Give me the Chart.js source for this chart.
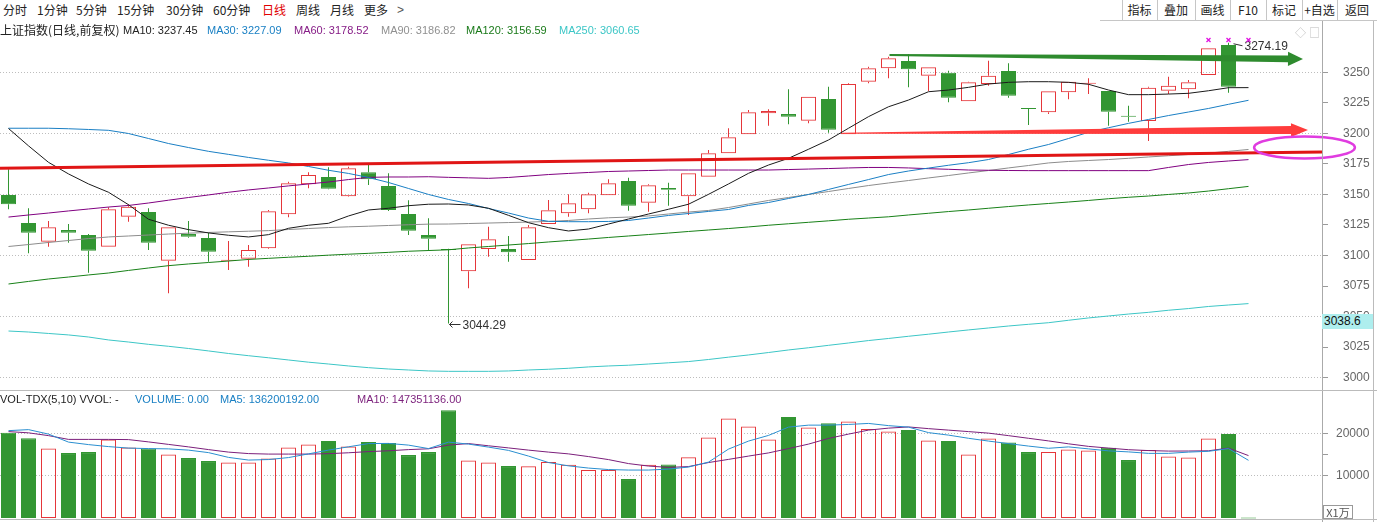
<!DOCTYPE html>
<html>
<head>
<meta charset="utf-8">
<title>上证指数 日线</title>
<script src="https://cdn.jsdelivr.net/npm/chart.js@4.4.1/dist/chart.umd.min.js"></script>
<style>
  html, body { margin: 0; padding: 0; background: #fff; }
  body { position: relative; width: 1377px; height: 522px; overflow: hidden;
         font-family: "Liberation Sans", "Noto Sans CJK SC", sans-serif; }
  canvas { position: absolute; left: 0; }
  #price { top: 21px; }
  #vol { top: 391px; }
  .t { position: absolute; white-space: nowrap; line-height: 14px; font-size: 12px; color: #222; z-index: 2; }
  .cn { font-family: "Noto Sans CJK SC", sans-serif; }
  .lg { font-size: 11px; }
  .ln { position: absolute; background: #c6c6c6; z-index: 1; }
  .btn { position: absolute; top: 3px; line-height: 14px; font-size: 12px; text-align: center; z-index: 2;
         font-family: "Noto Sans CJK SC", sans-serif; color: #222; }
</style>
</head>
<body>
<!-- period toolbar -->
<span class="t cn" style="left:3px;top:3px">分时</span>
<span class="t cn" style="left:37px;top:3px">1分钟</span>
<span class="t cn" style="left:76px;top:3px">5分钟</span>
<span class="t cn" style="left:117px;top:3px">15分钟</span>
<span class="t cn" style="left:166px;top:3px">30分钟</span>
<span class="t cn" style="left:213px;top:3px">60分钟</span>
<span class="t cn" style="left:262px;top:3px;color:#e00000">日线</span>
<span class="t cn" style="left:296px;top:3px">周线</span>
<span class="t cn" style="left:330px;top:3px">月线</span>
<span class="t cn" style="left:364px;top:3px">更多</span>
<span class="t" style="left:397px;top:3px;color:#555">&gt;</span>

<!-- right buttons -->
<div class="btn" style="left:1122px;width:35px">指标</div>
<div class="btn" style="left:1157px;width:38px">叠加</div>
<div class="btn" style="left:1195px;width:35px">画线</div>
<div class="btn" style="left:1230px;width:36px">F10</div>
<div class="btn" style="left:1266px;width:36px">标记</div>
<div class="btn" style="left:1302px;width:35px">+自选</div>
<div class="btn" style="left:1337px;width:40px">返回</div>
<div class="ln" style="left:1122px;top:0;width:1px;height:21px"></div>
<div class="ln" style="left:1157px;top:0;width:1px;height:21px"></div>
<div class="ln" style="left:1195px;top:0;width:1px;height:21px"></div>
<div class="ln" style="left:1230px;top:0;width:1px;height:21px"></div>
<div class="ln" style="left:1266px;top:0;width:1px;height:21px"></div>
<div class="ln" style="left:1302px;top:0;width:1px;height:21px"></div>
<div class="ln" style="left:1337px;top:0;width:1px;height:21px"></div>
<div class="ln" style="left:1100px;top:20px;width:277px;height:1px"></div>

<!-- price legend -->
<span class="t cn" style="left:0;top:23px">上证指数(日线,前复权)</span>
<span class="t lg" style="left:123px;top:23px;color:#222">MA10: 3237.45</span>
<span class="t lg" style="left:207px;top:23px;color:#1a80c4">MA30: 3227.09</span>
<span class="t lg" style="left:294px;top:23px;color:#861c86">MA60: 3178.52</span>
<span class="t lg" style="left:381px;top:23px;color:#909090">MA90: 3186.82</span>
<span class="t lg" style="left:466px;top:23px;color:#1a7a1a">MA120: 3156.59</span>
<span class="t lg" style="left:559px;top:23px;color:#3cc6c6">MA250: 3060.65</span>
<span class="t cn" style="left:1295px;top:25px;font-size:11px;color:#bbb">◇</span>
<span class="t cn" style="left:1309px;top:25px;font-size:11px;color:#bbb">□</span>

<!-- volume legend -->
<span class="t lg" style="left:0;top:392px">VOL-TDX(5,10) VVOL: -</span>
<span class="t lg" style="left:135px;top:392px;color:#1a80c4">VOLUME: 0.00</span>
<span class="t lg" style="left:220px;top:392px;color:#1a80c4">MA5: 136200192.00</span>
<span class="t lg" style="left:357px;top:392px;color:#7b1f7b">MA10: 147351136.00</span>

<!-- frame lines -->
<div class="ln" style="left:1322px;top:21px;width:1px;height:501px;background:#aaa"></div>
<div class="ln" style="left:1373px;top:21px;width:1px;height:501px;background:#bbb"></div>
<div class="ln" style="left:0;top:390px;width:1377px;height:1px;background:#bbb"></div>
<div class="ln" style="left:0;top:519px;width:1377px;height:1px;background:#bbb"></div>

<!-- cursor price and volume unit -->
<div class="t" style="left:1322px;top:314px;width:51px;height:15px;line-height:15px;background:#aeeeee;padding-left:2px;box-sizing:border-box;z-index:3;color:#111">3038.6</div>
<div class="t cn" style="left:1323px;top:505px;width:30px;height:14px;line-height:13px;border:1px solid #999;box-sizing:border-box;font-size:11px;color:#555;text-align:center;background:#fff;z-index:3">X1万</div>

<canvas id="price" width="1377" height="370"></canvas>
<canvas id="vol" width="1377" height="131"></canvas>

<script>
// daily candles (bar index 0..61)
const openP = [3149.6, 3126.6, 3111.3, 3120.9, 3116.8, 3107.2, 3131.8, 3135.6, 3095.8, 3117.6,
  3114.4, 3095.8, 3097.4, 3105.9, 3133.8, 3158.3, 3164.3, 3148.5, 3168.1, 3156.9,
  3134.0, 3116.8, 3105.1, 3087.1, 3105.4, 3105.4, 3096.3, 3125.8, 3134.6, 3137.9,
  3149.3, 3161.0, 3143.3, 3155.3, 3148.5, 3164.5, 3183.7, 3199.2, 3216.4, 3215.9,
  3210.4, 3228.1, 3199.2, 3242.3, 3253.3, 3259.3, 3247.2, 3249.7, 3226.3, 3240.4,
  3251.1, 3220.5, 3217.3, 3233.6, 3240.7, 3234.7, 3214.2, 3210.1, 3234.9, 3236.1,
  3247.8, 3272.3];
const highP = [3170.6, 3138.7, 3128.3, 3125.8, 3117.6, 3139.5, 3142.0, 3138.7, 3123.1, 3128.3,
  3118.7, 3111.9, 3108.6, 3137.3, 3160.4, 3168.1, 3172.2, 3172.7, 3174.1, 3167.3,
  3145.2, 3130.5, 3105.6, 3109.2, 3123.6, 3116.0, 3125.0, 3145.5, 3150.1, 3151.4,
  3162.4, 3163.7, 3158.3, 3159.6, 3167.3, 3186.4, 3204.2, 3219.1, 3219.7, 3236.1,
  3230.0, 3238.2, 3241.0, 3254.6, 3262.8, 3264.7, 3254.1, 3251.3, 3242.3, 3259.5,
  3257.4, 3220.5, 3234.4, 3242.3, 3245.1, 3234.7, 3222.7, 3238.2, 3246.4, 3243.7,
  3269.6, 3274.19];
const lowP = [3137.9, 3101.8, 3107.2, 3110.5, 3086.0, 3107.2, 3127.7, 3104.5, 3069.1, 3114.6,
  3095.0, 3088.2, 3090.9, 3105.4, 3131.3, 3155.0, 3154.2, 3148.2, 3157.7, 3136.5,
  3116.8, 3103.7, 3044.29, 3073.2, 3099.0, 3095.0, 3096.3, 3125.8, 3131.8, 3134.6,
  3149.3, 3136.7, 3135.9, 3140.8, 3133.2, 3164.5, 3183.7, 3199.2, 3206.3, 3207.4,
  3208.3, 3200.6, 3199.2, 3241.0, 3245.1, 3237.7, 3234.7, 3225.4, 3226.3, 3239.0,
  3229.2, 3206.9, 3215.9, 3227.9, 3232.2, 3206.3, 3209.6, 3193.8, 3232.2, 3228.7,
  3247.8, 3233.3];
const closeP = [3141.9, 3118.7, 3123.1, 3118.7, 3104.0, 3137.9, 3140.0, 3110.5, 3123.1, 3115.4,
  3103.1, 3096.3, 3104.5, 3136.2, 3159.1, 3165.9, 3154.7, 3171.4, 3162.4, 3137.3,
  3120.3, 3113.8, 3104.5, 3109.2, 3113.3, 3102.7, 3123.1, 3137.0, 3142.8, 3150.1,
  3159.1, 3140.8, 3157.5, 3153.9, 3167.3, 3183.7, 3196.8, 3217.3, 3218.3, 3213.7,
  3230.0, 3203.0, 3240.4, 3253.3, 3261.5, 3252.5, 3254.1, 3229.2, 3241.8, 3247.2,
  3230.8, 3220.0, 3234.4, 3242.3, 3241.0, 3217.7, 3213.7, 3237.4, 3239.0, 3241.8,
  3269.6, 3238.2];

// price moving averages (bar index 0..62)
const ma10 = [3204.0, 3189.8, 3176.3, 3166.8, 3158.6, 3151.8, 3141.6, 3129.7, 3124.8, 3121.2,
  3118.5, 3116.6, 3115.2, 3117.1, 3122.3, 3124.8, 3126.4, 3132.4, 3137.3, 3138.7,
  3140.8, 3142.0, 3142.2, 3141.4, 3138.7, 3132.9, 3126.9, 3122.8, 3120.1, 3121.7,
  3125.8, 3129.9, 3134.0, 3137.9, 3142.0, 3150.1, 3158.6, 3167.3, 3174.1, 3179.6,
  3187.0, 3194.6, 3204.2, 3213.7, 3221.8, 3227.3, 3234.1, 3235.5, 3237.7, 3240.4,
  3241.8, 3242.3, 3242.3, 3241.8, 3240.2, 3235.5, 3231.7, 3231.7, 3232.2, 3232.8,
  3234.9, 3237.4, 3237.45];
const ma30 = [3204.2, 3204.2, 3204.2, 3203.8, 3203.2, 3202.5, 3199.9, 3195.8, 3191.7, 3188.4,
  3185.3, 3182.8, 3180.3, 3178.0, 3175.8, 3172.9, 3169.8, 3167.2, 3163.9, 3159.8,
  3154.9, 3150.0, 3145.9, 3142.6, 3138.5, 3134.8, 3130.7, 3128.0, 3127.7, 3127.7,
  3127.9, 3128.7, 3130.7, 3132.8, 3134.4, 3136.1, 3137.7, 3141.0, 3143.4, 3146.7,
  3150.0, 3154.1, 3158.2, 3162.2, 3166.3, 3169.2, 3171.6, 3173.9, 3176.0, 3178.6,
  3182.7, 3187.0, 3190.9, 3195.8, 3200.9, 3204.6, 3208.2, 3211.4, 3214.6, 3217.5,
  3220.4, 3223.8, 3227.09];
const ma60 = [3131.5, 3133.2, 3134.8, 3136.5, 3138.1, 3139.7, 3141.0, 3143.0, 3145.3, 3147.5,
  3149.6, 3151.8, 3153.7, 3155.3, 3157.0, 3158.6, 3160.2, 3162.2, 3164.0, 3164.3,
  3164.3, 3164.5, 3164.0, 3163.6, 3163.2, 3163.9, 3165.1, 3166.3, 3167.2, 3168.0,
  3168.8, 3169.2, 3169.6, 3170.0, 3170.0, 3170.0, 3170.0, 3170.0, 3170.0, 3170.4,
  3170.8, 3171.2, 3171.7, 3172.1, 3172.1, 3171.7, 3171.1, 3170.6, 3170.0, 3169.8,
  3169.6, 3169.5, 3169.5, 3169.5, 3169.5, 3169.5, 3169.5, 3169.5, 3172.1, 3174.5,
  3176.2, 3177.4, 3178.52];
const ma90 = [3107.4, 3109.0, 3110.7, 3112.3, 3113.9, 3115.2, 3116.0, 3116.8, 3117.6, 3118.3,
  3118.9, 3119.4, 3119.9, 3120.4, 3121.3, 3122.1, 3122.9, 3123.5, 3124.0, 3124.6,
  3125.2, 3125.7, 3125.8, 3126.2, 3126.6, 3127.0, 3127.4, 3127.9, 3128.7, 3129.9,
  3130.9, 3131.5, 3132.4, 3134.0, 3135.6, 3136.9, 3139.3, 3142.2, 3145.1, 3147.5,
  3150.0, 3152.4, 3154.9, 3157.3, 3159.4, 3161.4, 3163.5, 3165.5, 3167.6, 3169.6,
  3171.7, 3173.7, 3175.8, 3177.0, 3177.8, 3178.6, 3179.6, 3180.7, 3181.7, 3182.7,
  3183.9, 3185.3, 3186.82];
const ma120 = [3076.7, 3078.8, 3080.8, 3082.4, 3084.1, 3085.7, 3087.8, 3089.8, 3091.7, 3093.1,
  3094.3, 3095.5, 3096.8, 3097.7, 3098.6, 3099.4, 3100.3, 3101.1, 3101.8, 3102.6,
  3103.5, 3104.1, 3104.7, 3106.2, 3107.4, 3108.6, 3109.8, 3111.1, 3112.3, 3113.5,
  3114.8, 3116.0, 3117.2, 3118.4, 3119.7, 3120.9, 3122.1, 3123.4, 3124.8, 3126.0,
  3127.2, 3128.4, 3129.7, 3130.7, 3131.7, 3133.2, 3134.6, 3136.0, 3137.3, 3138.7,
  3140.1, 3141.4, 3142.6, 3143.8, 3145.1, 3146.5, 3147.7, 3148.7, 3150.0, 3151.2,
  3152.8, 3154.7, 3156.59];
const ma250 = [3038.2, 3037.4, 3036.2, 3035.0, 3033.3, 3030.9, 3029.2, 3027.3, 3025.7, 3023.9,
  3021.9, 3019.8, 3018.0, 3016.3, 3014.5, 3012.7, 3011.2, 3009.6, 3008.2, 3007.1,
  3006.3, 3005.5, 3005.2, 3005.2, 3005.2, 3005.5, 3006.3, 3006.9, 3007.7, 3008.8,
  3009.6, 3010.2, 3011.2, 3012.2, 3013.2, 3014.9, 3016.8, 3018.6, 3020.6, 3022.7,
  3024.5, 3026.5, 3028.4, 3030.4, 3032.1, 3033.9, 3035.6, 3037.4, 3039.1, 3040.7,
  3042.3, 3043.7, 3045.0, 3047.0, 3048.9, 3050.5, 3052.1, 3053.5, 3055.2, 3056.6,
  3058.3, 3059.5, 3060.65];

// volume in units of 10,000 shares (bar index 0..62)
const volume = [20110, 18860, 16430, 15330, 15560, 18550, 16670, 16430, 15010, 14150,
  13440, 13130, 13130, 14070, 16670, 17370, 18160, 16900, 17920, 17690,
  14850, 15560, 25470, 13600, 13130, 12260, 12190, 13200, 12570, 11320,
  11320, 9200, 12570, 12660, 14330, 19030, 23500, 21620, 18550, 23820,
  21380, 22400, 22800, 20990, 20440, 20750, 18320, 18160, 15020, 18790,
  17850, 15560, 15560, 16200, 15960, 16580, 13680, 16030, 14540, 14310,
  18790, 19810, 0];
const volMa5 = [20630, 20870, 19810, 17920, 17330, 16860, 16510, 16390, 16320, 16030,
  15440, 14310, 13680, 13800, 14270, 15140, 16030, 16810, 17570, 17610,
  17210, 16390, 17920, 17450, 16740, 15960, 14620, 13090, 12310, 11790,
  11440, 11320, 11320, 11550, 12030, 13200, 16270, 18160, 19500, 21460,
  21930, 21930, 22090, 22330, 21810, 21460, 20160, 19570, 18820, 18160,
  17570, 16980, 16460, 16790, 16320, 15850, 15610, 15260, 15260, 15560,
  15750, 16390, 13620];
const volMa10 = [20400, 20110, 19450, 18560, 18560, 18560, 18510, 17970, 17380, 16790,
  16150, 15560, 15210, 15090, 15090, 15090, 15190, 15400, 15680, 15870,
  16150, 16340, 17210, 17570, 17050, 16550, 16030, 15560, 15140, 14500,
  13790, 12850, 12260, 11950, 12140, 13090, 13840, 14620, 15370, 16390,
  17450, 18790, 19810, 20750, 21220, 21500, 21100, 20750, 20400, 20040,
  19450, 18820, 18200, 17520, 16910, 16510, 16130, 15920, 15800, 15820,
  15870, 16510, 14735];

// axis ticks
const priceTicks = [3000, 3025, 3050, 3075, 3100, 3125, 3150, 3175, 3200, 3225, 3250];
const volTicks = [10000, 15000, 20000];

// hand-drawn marks, in (bar index, price)
const trendLineX = [-0.425, 65.675], trendLineY = [3171.4, 3184.8];
const redArrowX = [41.7, 64.975], redArrowY = [3200.1, 3202.8];
const greenArrowX = [44.05, 64.725], greenArrowY = [3264.1, 3260.9];
const ringX = 64.8, ringY = 3188.4, ringRX = 2.52, ringRY = 9.0;
const signalBars = [60, 61, 62];

const RED = "#e5363a";
const GREEN = "#329632";
const CLEAR = "rgba(0,0,0,0)";

Chart.defaults.font.family = '"Liberation Sans", Arial, sans-serif';
Chart.defaults.font.size = 12;

// x range so that bar i sits at 8.5 + 20 * i pixels
const xMin = -0.425, xMax = 65.675;

const isUp = closeP.map((c, i) => c >= openP[i]);
const candleColor = isUp.map(u => u ? RED : GREEN);
const pts = arr => arr.map((v, i) => ({ x: i, y: v }));

function maLine(data, color, order) {
    return {
        type: "line", data: pts(data), borderColor: color, borderWidth: 1,
        pointRadius: 0, tension: 0, fill: false, order: order
    };
}

function fixedAxis(s) {
    s.width = 55;
    s.paddingTop = 0;
    s.paddingBottom = 0;
}

function arrow(ctx, x0, y0, x1, y1, tailHalf, shaftHalf, headHalf, headLen, color) {
    const len = Math.hypot(x1 - x0, y1 - y0);
    const dx = (x1 - x0) / len, dy = (y1 - y0) / len;
    const nx = -dy, ny = dx;
    const bx = x1 - dx * headLen, by = y1 - dy * headLen;
    ctx.fillStyle = color;
    ctx.beginPath();
    ctx.moveTo(x0 + nx * tailHalf, y0 + ny * tailHalf);
    ctx.lineTo(bx + nx * shaftHalf, by + ny * shaftHalf);
    ctx.lineTo(bx + nx * headHalf, by + ny * headHalf);
    ctx.lineTo(x1, y1);
    ctx.lineTo(bx - nx * headHalf, by - ny * headHalf);
    ctx.lineTo(bx - nx * shaftHalf, by - ny * shaftHalf);
    ctx.lineTo(x0 - nx * tailHalf, y0 - ny * tailHalf);
    ctx.closePath();
    ctx.fill();
}

// drawings, extreme labels and signal marks on top of the candles
const drawings = {
    id: "drawings",
    afterDatasetsDraw(chart) {
        const ctx = chart.ctx;
        const x = chart.scales.x, y = chart.scales.y;
        const px = v => x.getPixelForValue(v);
        const py = v => y.getPixelForValue(v);
        ctx.save();

        ctx.strokeStyle = "#e01515";
        ctx.lineWidth = 3;
        ctx.beginPath();
        ctx.moveTo(px(trendLineX[0]), py(trendLineY[0]));
        ctx.lineTo(px(trendLineX[1]), py(trendLineY[1]));
        ctx.stroke();

        arrow(ctx, px(redArrowX[0]), py(redArrowY[0]), px(redArrowX[1]), py(redArrowY[1]),
              0.5, 4, 6.8, 17, "#ff3c3c");
        arrow(ctx, px(greenArrowX[0]), py(greenArrowY[0]), px(greenArrowX[1]), py(greenArrowY[1]),
              1, 3.3, 7.2, 15, "#2e8b2e");

        ctx.strokeStyle = "#e03ce0";
        ctx.lineWidth = 2.5;
        ctx.beginPath();
        ctx.ellipse(px(ringX), py(ringY), px(ringX + ringRX) - px(ringX),
                    py(ringY - ringRY) - py(ringY), 0, 0, Math.PI * 2);
        ctx.stroke();

        // lowest low and highest high
        ctx.font = '12px "Liberation Sans", Arial, sans-serif';
        ctx.fillStyle = "#333";
        ctx.strokeStyle = "#333";
        ctx.lineWidth = 1;
        ctx.textBaseline = "middle";
        const lo = Math.min(...lowP), loBar = lowP.indexOf(lo);
        const lx = Math.round(px(loBar)) + 0.5, ly = Math.round(py(lo)) + 0.5;
        ctx.beginPath();
        ctx.moveTo(lx, ly); ctx.lineTo(lx + 11, ly);
        ctx.moveTo(lx + 3, ly - 3); ctx.lineTo(lx, ly); ctx.lineTo(lx + 3, ly + 3);
        ctx.stroke();
        ctx.fillText(lo.toFixed(2), lx + 13, ly + 1);

        const hi = Math.max(...highP), hiBar = highP.indexOf(hi);
        const hx = px(hiBar), hy = py(hi);
        ctx.beginPath();
        ctx.moveTo(hx + 5, hy + 1); ctx.lineTo(hx + 14, hy + 3);
        ctx.stroke();
        ctx.fillText(hi.toFixed(2), hx + 16, hy + 4);

        // signal crosses along the top
        ctx.strokeStyle = "#e010e0";
        ctx.lineWidth = 1.3;
        signalBars.forEach(b => {
            const sx = px(b), sy = chart.chartArea.top + 19;
            ctx.beginPath();
            ctx.moveTo(sx - 2, sy - 2); ctx.lineTo(sx + 2, sy + 2);
            ctx.moveTo(sx + 2, sy - 2); ctx.lineTo(sx - 2, sy + 2);
            ctx.stroke();
        });
        ctx.restore();
    }
};

const common = {
    responsive: false,
    animation: false,
    devicePixelRatio: 1,
    events: [],
    layout: { padding: 0, autoPadding: false },
    plugins: { legend: { display: false }, tooltip: { enabled: false } }
};

// price pane
new Chart(document.getElementById("price"), {
    type: "bar",
    data: {
        datasets: [
            {
                data: closeP.map((c, i) => ({ x: i, y: [Math.max(openP[i], c), highP[i]] })),
                backgroundColor: candleColor, borderWidth: 0, barThickness: 1,
                grouped: false, inflateAmount: 0, order: 10
            },
            {
                data: closeP.map((c, i) => ({ x: i, y: [lowP[i], Math.min(openP[i], c)] })),
                backgroundColor: candleColor, borderWidth: 0, barThickness: 1,
                grouped: false, inflateAmount: 0, order: 10
            },
            {
                data: closeP.map((c, i) => ({ x: i, y: [openP[i], c] })),
                backgroundColor: isUp.map(u => u ? CLEAR : GREEN),
                borderColor: candleColor, borderWidth: 1, borderSkipped: false,
                barThickness: 15, minBarLength: 1, grouped: false, inflateAmount: 0, order: 9
            },
            maLine(ma250, "#3cc6c6", 6),
            maLine(ma120, "#178017", 5),
            maLine(ma90, "#8c8c8c", 4),
            maLine(ma60, "#800080", 3),
            maLine(ma30, "#1a7fc4", 2),
            maLine(ma10, "#1a1a1a", 1)
        ]
    },
    options: Object.assign({}, common, {
        scales: {
            x: { type: "linear", min: xMin, max: xMax, offset: false, display: false },
            y: {
                position: "right", bounds: "data", min: 2989.1, max: 3292.0, beginAtZero: false,
                afterFit: fixedAxis,
                afterBuildTicks: s => { s.ticks = priceTicks.map(v => ({ value: v })); },
                ticks: { color: "#666", padding: 15, crossAlign: "near", autoSkip: false,
                         callback: v => String(v) },
                grid: {
                    color: c => (c.tick && c.tick.value % 50 === 0) ? "#bdbdbd" : CLEAR,
                    tickColor: "#9a9a9a", tickLength: 6, lineWidth: 1, borderDash: [1, 2]
                },
                border: { display: false, dash: [1, 2] }
            }
        }
    }),
    plugins: [drawings]
});

// volume pane
const volUp = volume.map((v, i) => i < isUp.length ? isUp[i] : false);
new Chart(document.getElementById("vol"), {
    type: "bar",
    data: {
        datasets: [
            {
                data: pts(volume),
                backgroundColor: volUp.map(u => u ? CLEAR : GREEN),
                borderColor: volUp.map(u => u ? RED : GREEN),
                borderWidth: 1, borderSkipped: false, barThickness: 15, minBarLength: 1,
                grouped: false, inflateAmount: 0, order: 5
            },
            maLine(volMa10, "#7b1f7b", 2),
            maLine(volMa5, "#2a8fd0", 1)
        ]
    },
    options: Object.assign({}, common, {
        scales: {
            x: { type: "linear", min: xMin, max: xMax, offset: false, display: false },
            y: {
                position: "right", bounds: "data", min: -945, max: 29988, beginAtZero: false,
                afterFit: fixedAxis,
                afterBuildTicks: s => { s.ticks = volTicks.map(v => ({ value: v })); },
                ticks: { color: "#666", padding: 8, crossAlign: "near", autoSkip: false,
                         callback: v => v % 10000 === 0 ? String(v) : "" },
                grid: {
                    color: c => (c.tick && c.tick.value % 10000 === 0) ? "#bdbdbd" : CLEAR,
                    tickColor: "#9a9a9a", tickLength: 6, lineWidth: 1, borderDash: [1, 2]
                },
                border: { display: false, dash: [1, 2] }
            }
        }
    })
});
</script>
</body>
</html>
